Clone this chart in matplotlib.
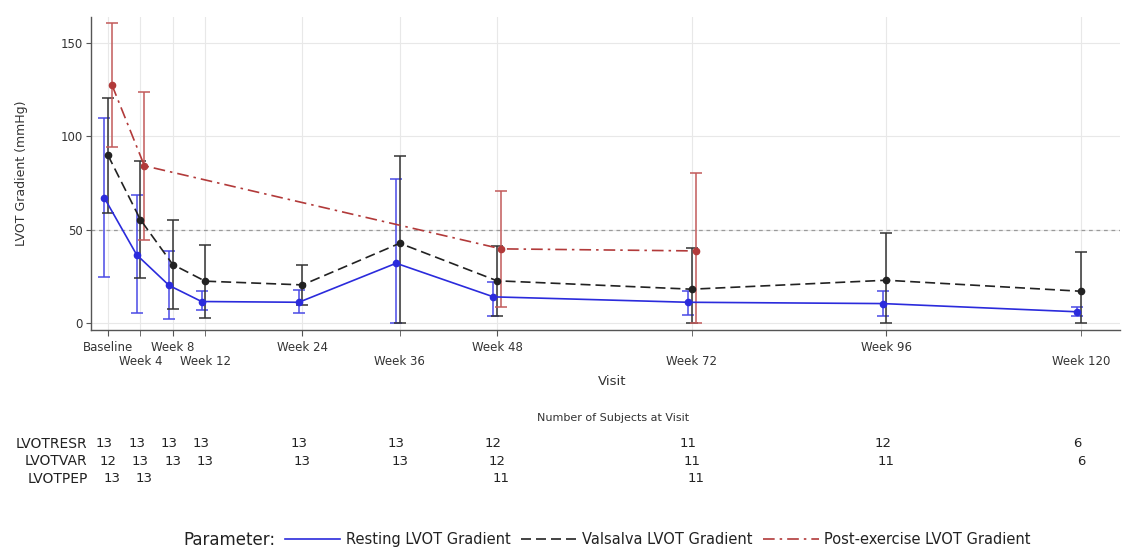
import matplotlib
matplotlib.use("Agg")
import matplotlib.pyplot as plt
from matplotlib.lines import Line2D
from matplotlib.transforms import blended_transform_factory

# Visit schedule (weeks from baseline)
weeks = [0, 4, 8, 12, 24, 36, 48, 72, 96, 120]
visit_labels = ["Baseline", "Week 4", "Week 8", "Week 12", "Week 24",
                "Week 36", "Week 48", "Week 72", "Week 96", "Week 120"]

# Resting LVOT gradient: mean with lower / upper limits (mmHg)
resting_mean = [67.2, 36.6, 20.2, 11.6, 11.2, 32.1, 14.1, 11.2, 10.5, 6.1]
resting_lo = [24.5, 5.7, 2.3, 6.8, 5.7, 0.0, 3.9, 4.4, 3.7, 3.9]
resting_hi = [110.0, 68.5, 38.6, 17.0, 17.7, 77.3, 22.1, 17.3, 17.1, 8.4]

# Valsalva LVOT gradient
valsalva_mean = [90.0, 55.5, 31.4, 22.5, 20.5, 42.8, 22.7, 18.2, 23.0, 17.1]
valsalva_lo = [59.2, 24.4, 7.7, 3.0, 9.8, 0.0, 3.9, 0.0, 0.0, 0.0]
valsalva_hi = [120.5, 86.6, 55.2, 42.1, 30.9, 89.3, 41.2, 40.2, 48.2, 38.2]

# Post-exercise LVOT gradient (only measured at some visits)
post_weeks = [0, 4, 48, 72]
post_mean = [127.6, 84.3, 39.8, 38.7]
post_lo = [94.6, 44.6, 8.6, 0.0]
post_hi = [161.0, 124.0, 70.9, 80.7]

# Number of subjects at each visit
n_resting = [13, 13, 13, 13, 13, 13, 12, 11, 12, 6]
n_valsalva = [12, 13, 13, 13, 13, 13, 12, 11, 11, 6]
n_post = [13, 13, 11, 11]

row_names = ["LVOTRESR", "LVOTVAR", "LVOTPEP"]

# small horizontal shifts so the error bars don't sit on top of each other
shift_rest = -0.45
shift_post = 0.5

blue = "#2b2bdc"
black = "#222222"
red = "#b23a3a"

fig = plt.figure(figsize=(11.22, 5.48), dpi=100)
ax = fig.add_axes([0.081, 0.398, 0.917, 0.571])

def series(x, mean, lo, hi, color, ecolor, ls, shift):
    xs = [v + shift for v in x]
    err = [[m - l for m, l in zip(mean, lo)], [h - m for m, h in zip(mean, hi)]]
    ax.errorbar(xs, mean, yerr=err, fmt="none", ecolor=ecolor, elinewidth=1.1,
                capsize=4.3, capthick=1.1, zorder=3)
    ax.plot(xs, mean, color=color, linestyle=ls, linewidth=1.2, zorder=4)
    ax.plot(xs, mean, "o", color=color, markersize=4.5, zorder=5)

series(weeks, resting_mean, resting_lo, resting_hi, blue, "#4a4ae6", "-", shift_rest)
series(weeks, valsalva_mean, valsalva_lo, valsalva_hi, black, "#333333", (0, (6, 3)), 0)
series(post_weeks, post_mean, post_lo, post_hi, red, "#c25a5a", (0, (7, 3, 1.5, 3)), shift_post)

# reference line at 50 mmHg
ax.axhline(50, color="#9a9a9a", linestyle=(0, (3, 3)), linewidth=0.9, zorder=1)

ax.set_xlim(-2.1, 124.8)
ax.set_ylim(-3.6, 164)
ax.set_yticks([0, 50, 100, 150])

# visit labels alternate between two rows: even visits on major ticks,
# odd visits on minor ticks pushed one line lower
ax.set_xticks(weeks[0::2])
ax.set_xticklabels(visit_labels[0::2])
ax.set_xticks(weeks[1::2], minor=True)
ax.set_xticklabels(visit_labels[1::2], minor=True)
ax.grid(True, which="both", axis="x", color="#e8e8e8", linewidth=0.8, zorder=0)
ax.grid(True, axis="y", color="#e8e8e8", linewidth=0.8, zorder=0)
ax.set_axisbelow(True)

for side in ["top", "right"]:
    ax.spines[side].set_visible(False)
for side in ["left", "bottom"]:
    ax.spines[side].set_color("#555555")
    ax.spines[side].set_linewidth(1.0)

ax.tick_params(axis="x", which="both", length=4.3, labelsize=8.5, colors="#555555",
               labelcolor="#333333")
ax.tick_params(axis="x", which="major", pad=3.5)
ax.tick_params(axis="x", which="minor", pad=14)
ax.tick_params(axis="y", length=3.5, pad=2.5, labelsize=8.5, colors="#555555", labelcolor="#333333")

ax.set_ylabel("LVOT Gradient (mmHg)", fontsize=9, color="#333333")
ax.yaxis.set_label_coords(-0.061, 0.5)
fig.text(0.546, 0.303, "Visit", fontsize=9.5, color="#333333", ha="center", va="center")

# subject counts under the plot, lined up with each series' x positions
trans = blended_transform_factory(ax.transData, fig.transFigure)
fig.text(0.546, 0.237, "Number of Subjects at Visit", fontsize=8, color="#333333",
         ha="center", va="center")
row_y = [0.190, 0.158, 0.126]
rows = [(weeks, n_resting, shift_rest), (weeks, n_valsalva, 0), (post_weeks, n_post, shift_post)]
for name, y, (xs, ns, shift) in zip(row_names, row_y, rows):
    fig.text(0.078, y, name, fontsize=10, color="#222222", ha="right", va="center")
    for x, n in zip(xs, ns):
        ax.text(x + shift, y, str(n), transform=trans, fontsize=9.5, color="#222222",
                ha="center", va="center")

# legend along the bottom
handles = [
    Line2D([], [], color=blue, linewidth=1.2, linestyle="-"),
    Line2D([], [], color=black, linewidth=1.2, linestyle=(0, (6, 3))),
    Line2D([], [], color=red, linewidth=1.2, linestyle=(0, (7, 3, 1.5, 3))),
]
labels = ["Resting LVOT Gradient", "Valsalva LVOT Gradient", "Post-exercise LVOT Gradient"]
fig.text(0.163, 0.0146, "Parameter:", fontsize=12, color="#222222", ha="left", va="center")
fig.legend(handles, labels, loc="center left", bbox_to_anchor=(0.254, 0.0146), ncol=3,
           frameon=False, fontsize=10.5, handlelength=3.8, handletextpad=0.4,
           columnspacing=0.7, borderpad=0, borderaxespad=0, labelcolor="#222222")

fig.savefig("out.png", dpi=100)
